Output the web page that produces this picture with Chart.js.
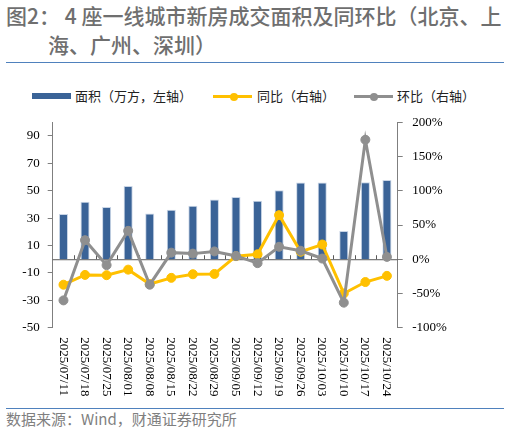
<!DOCTYPE html>
<html>
<head>
<meta charset="utf-8">
<script src="https://cdn.jsdelivr.net/npm/chart.js@4.4.1/dist/chart.umd.min.js"></script>
<style>
  body { margin:0; background:#fff; width:510px; height:439px; position:relative; overflow:hidden;
         font-family:"Noto Sans CJK SC","Noto Sans",sans-serif; }
  .t { position:absolute; font-size:21px; font-weight:500; color:#6f6f6f; white-space:nowrap; line-height:1; }
  .rule { position:absolute; left:6px; width:498px; height:1.5px; background:#4f81bd; }
  .lg { position:absolute; top:87px; font-size:13px; color:#222; line-height:18px; white-space:nowrap; }
  .sw { position:absolute; }
  #src { position:absolute; left:6px; top:410px; font-size:15px; color:#7f7f7f; white-space:nowrap; line-height:18px; }
  #c { position:absolute; left:0; top:105px; }
</style>
</head>
<body>
<div class="t" style="left:6px;top:5px">图2： 4 座一线城市新房成交面积及同环比（北京、上</div>
<div class="t" style="left:48px;top:34px">海、广州、深圳）</div>
<div class="rule" style="top:61.5px"></div>

<div class="sw" style="left:32px;top:93px;width:39px;height:6px;background:#3a6397"></div>
<div class="lg" style="left:75px">面积（万方，左轴）</div>
<div class="sw" style="left:213px;top:95px;width:39px;height:3px;background:#ffc000"></div>
<div class="sw" style="left:229.5px;top:92.5px;width:8px;height:8px;border-radius:50%;background:#ffc000"></div>
<div class="lg" style="left:257px">同比（右轴）</div>
<div class="sw" style="left:354px;top:95px;width:39px;height:3px;background:#8f8f8f"></div>
<div class="sw" style="left:369.5px;top:92.5px;width:8px;height:8px;border-radius:50%;background:#8f8f8f"></div>
<div class="lg" style="left:397px">环比（右轴）</div>

<canvas id="c" width="510" height="300"></canvas>

<div class="rule" style="top:407.5px"></div>
<div id="src">数据来源：Wind，财通证券研究所</div>

<script>
const dates = ['2025/07/11','2025/07/18','2025/07/25','2025/08/01','2025/08/08','2025/08/15','2025/08/22','2025/08/29',
               '2025/09/05','2025/09/12','2025/09/19','2025/09/26','2025/10/03','2025/10/10','2025/10/17','2025/10/24'];
const area = [33.1, 41.9, 38.1, 53.4, 33.4, 36.2, 39.1, 43.6, 45.5, 42.8, 50.3, 56.0, 56.0, 20.7, 56.2, 57.9];
const yoy  = [-37.2, -22.9, -23.3, -15.2, -36.2, -27.2, -21.9, -21.5, 4.5, 7.2, 64.4, 11.0, 21.5, -50.0, -33.3, -24.3];
const mom  = [-60.1, 27.8, -8.6, 41.5, -37.2, 9.6, 8.2, 11.4, 4.8, -5.7, 18.2, 12.4, 1.0, -63.4, 174.5, 3.4];
const leftTicks  = [-50, -30, -10, 10, 30, 50, 70, 90];
const rightTicks = [-100, -50, 0, 50, 100, 150, 200];

const serif = { family: '"Liberation Serif","Times New Roman",serif', size: 13 };

// zero line + category marks under the datasets, rotated dates after
const axisDeco = {
  id: 'axisDeco',
  beforeDatasetsDraw(chart) {
    const { ctx, chartArea: a, scales: { x, y } } = chart;
    const y0 = y.getPixelForValue(0);
    const w = (a.right - a.left) / dates.length;
    ctx.save();
    ctx.strokeStyle = '#595959';
    ctx.lineWidth = 1;
    ctx.beginPath();
    ctx.moveTo(a.left, y0 + 0.5);
    ctx.lineTo(a.right, y0 + 0.5);
    for (let i = 1; i < dates.length; i++) {
      const bx = Math.round(x.getPixelForValue(i) - w / 2) + 0.5;
      ctx.moveTo(bx, y0);
      ctx.lineTo(bx, y0 - 4);
    }
    ctx.stroke();
    ctx.restore();
  },
  afterDraw(chart) {
    const { ctx, chartArea: a, scales: { x } } = chart;
    ctx.save();
    ctx.font = serif.size + 'px ' + serif.family;
    ctx.fillStyle = '#000';
    ctx.textAlign = 'left';
    ctx.textBaseline = 'middle';
    dates.forEach((d, i) => {
      ctx.save();
      ctx.translate(x.getPixelForValue(i) - 0.5, a.bottom + 9.5);
      ctx.rotate(Math.PI / 2);
      ctx.fillText(d, 0, 0);
      ctx.restore();
    });
    ctx.restore();
  }
};

new Chart(document.getElementById('c'), {
  type: 'bar',
  data: {
    labels: dates,
    datasets: [
      { type: 'line', label: '环比（右轴）', data: mom, yAxisID: 'y1', order: 1,
        borderColor: '#8f8f8f', backgroundColor: '#8f8f8f', borderWidth: 3, tension: 0,
        pointRadius: 4.5, pointBorderWidth: 1, pointBackgroundColor: '#8f8f8f', pointBorderColor: '#8f8f8f' },
      { type: 'line', label: '同比（右轴）', data: yoy, yAxisID: 'y1', order: 2,
        borderColor: '#ffc000', backgroundColor: '#ffc000', borderWidth: 3, tension: 0,
        pointRadius: 4.5, pointBorderWidth: 1, pointBackgroundColor: '#ffc000', pointBorderColor: '#ffc000' },
      { type: 'bar', label: '面积（万方，左轴）', data: area, yAxisID: 'y', order: 3,
        backgroundColor: '#3a6397', borderColor: '#c9d5e6', borderWidth: { left: 1, right: 1, top: 1, bottom: 0 },
        borderSkipped: 'bottom', barPercentage: 0.42, categoryPercentage: 1 }
    ]
  },
  options: {
    responsive: false, animation: false, devicePixelRatio: 1,
    layout: { padding: { top: 12.7, left: 0, right: 0, bottom: 0 } },
    plugins: { legend: { display: false }, tooltip: { enabled: false } },
    scales: {
      x: {
        grid: { display: false }, border: { display: false }, ticks: { display: false },
        afterFit: s => { s.height = 77.3; }
      },
      y: {
        position: 'left', min: -50, max: 100,
        afterBuildTicks: s => { s.ticks = leftTicks.map(v => ({ value: v })); },
        afterFit: s => { s.width = 52.7; },
        grid: { drawOnChartArea: false, drawTicks: true, tickLength: 5, color: '#7f7f7f' },
        border: { display: true, color: '#7f7f7f', width: 1 },
        ticks: { font: serif, color: '#000', padding: 8 }
      },
      y1: {
        position: 'right', min: -100, max: 200,
        afterBuildTicks: s => { s.ticks = rightTicks.map(v => ({ value: v })); },
        afterFit: s => { s.width = 112.3; },
        grid: { drawOnChartArea: false, drawTicks: true, tickLength: 5, color: '#7f7f7f' },
        border: { display: true, color: '#7f7f7f', width: 1 },
        ticks: { font: serif, color: '#000', padding: 9.5, callback: v => v + '%' }
      }
    }
  },
  plugins: [axisDeco]
});
</script>
</body>
</html>
